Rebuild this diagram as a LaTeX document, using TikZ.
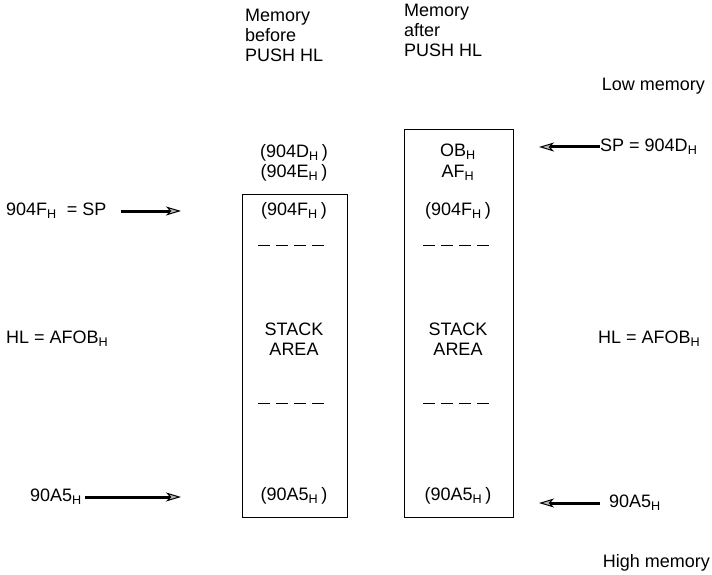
\documentclass[tikz,border=0pt]{standalone}
\usepackage{fontspec}
\setmainfont{Liberation Sans}
\usetikzlibrary{arrows.meta}
\newcommand\Hs{\textsubscript{H}}
\tikzset{
  lbl/.style={inner sep=0pt, font=\fontsize{18}{20}\selectfont},
  cell/.style={lbl, anchor=center},
  mem/.style={draw, line width=1pt},
  ptr/.style={line width=3pt, -{Stealth[length=15pt,width=9pt,inset=4pt,fill=gray!55,line width=1pt]}},
  gap/.style={line width=1pt, dash pattern=on 12pt off 6pt}
}
\begin{document}
\begin{tikzpicture}[x=1pt,y=-1pt]
\useasboundingbox (0,0) rectangle (712,575);
% headings
\node[lbl, anchor=north west, align=left] (hb) at (245,9) {Memory\\before\\PUSH HL};
\node[lbl, anchor=north west, align=left] (ha) at (404,4) {Memory\\after\\PUSH HL};
\node[lbl, anchor=east] (low) at (705,86) {Low memory};
\node[lbl, anchor=east] (high) at (710,563) {High memory};
% boxes
\draw[mem] (242,194) rectangle (347,517);
\draw[mem] (404,130) rectangle (513,517);
% left column contents
\node[cell] (l4d) at (294,153) {(904D\Hs\,)};
\node[cell] (l4e) at (294,173) {(904E\Hs\,)};
\node[cell] (l4f) at (294,211) {(904F\Hs\,)};
\coordinate (ld1a) at (258,245); \coordinate (ld1b) at (327,245);
\draw[gap] (ld1a) -- (ld1b);
\node[cell, align=center] (lstack) at (294,339) {STACK\\AREA};
\coordinate (ld2a) at (258,403); \coordinate (ld2b) at (327,403);
\draw[gap] (ld2a) -- (ld2b);
\node[cell] (la5) at (294,496) {(90A5\Hs\,)};
% right column contents
\node[cell] (rob) at (458,152) {OB\Hs};
\node[cell] (raf) at (458,173) {AF\Hs};
\node[cell] (r4f) at (458,211) {(904F\Hs\,)};
\coordinate (rd1a) at (423,245); \coordinate (rd1b) at (492,245);
\draw[gap] (rd1a) -- (rd1b);
\node[cell, align=center] (rstack) at (458,339) {STACK\\AREA};
\coordinate (rd2a) at (423,403); \coordinate (rd2b) at (492,403);
\draw[gap] (rd2a) -- (rd2b);
\node[cell] (ra5) at (458,496) {(90A5\Hs\,)};
% left pointers
\node[lbl, anchor=west] (lsp) at (6,211) {904F\Hs\ \ = SP};
\coordinate (lsptip) at (181,211);
\draw[ptr] ([xshift=14pt]lsp.east) -- (lsptip);
\node[lbl, anchor=west] (lhl) at (6,339) {HL = AFOB\Hs};
\node[lbl, anchor=west] (lbot) at (30,497) {90A5\Hs};
\coordinate (lbottip) at (181,497);
\draw[ptr] ([xshift=3pt]lbot.east) -- (lbottip);
% right pointers
\node[lbl, anchor=west] (rsp) at (600,147) {SP = 904D\Hs};
\coordinate (rsptip) at (539,147);
\draw[ptr] (rsp.west) -- (rsptip);
\node[lbl, anchor=west] (rhl) at (598,339) {HL = AFOB\Hs};
\node[lbl, anchor=west] (rbot) at (609,503) {90A5\Hs};
\coordinate (rbottip) at (539,503);
\draw[ptr] ([xshift=-9pt]rbot.west) -- (rbottip);
\end{tikzpicture}
\end{document}
